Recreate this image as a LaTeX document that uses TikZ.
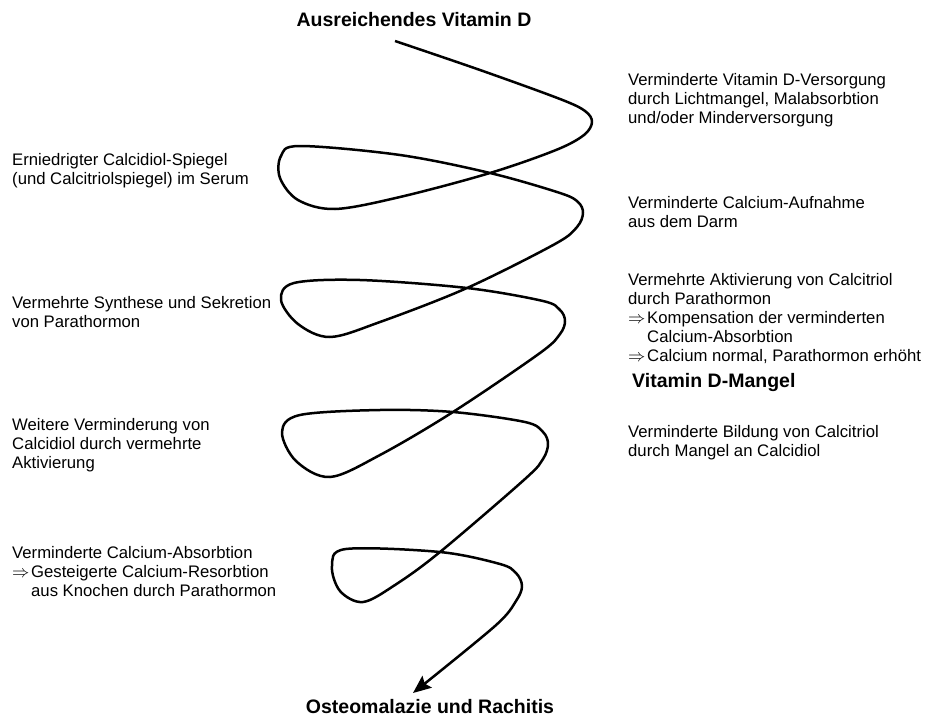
\documentclass[tikz,border=0pt]{standalone}
\usepackage{fontspec}
\setmainfont{Liberation Sans}
\usepackage{tikz}
\usetikzlibrary{positioning,arrows.meta}
\newcommand{\txtsize}{\fontsize{16.7}{19}\selectfont}
\newcommand{\ttlsize}{\fontsize{19.5}{22}\selectfont\bfseries}
\newcommand{\impl}{\makebox[19pt][l]{$\Rightarrow$}}
\tikzset{
  lbl/.style={font=\txtsize,align=left,anchor=north west,inner sep=0pt},
  ttl/.style={font=\ttlsize,anchor=base,inner sep=0pt},
  spiral/.style={line width=2.5pt,line join=round,-{Stealth[length=18pt,width=15pt,inset=3pt]}}
}
\begin{document}
\begin{tikzpicture}[x=1pt,y=-1pt]
  \useasboundingbox (0,0) rectangle (930,720);
  % end labels
  \node[ttl] (adequate) at (414,27) {Ausreichendes Vitamin D};
  \node[ttl] (osteo) at (430,713) {Osteomalazie und Rachitis};
  \node[ttl,anchor=base west] (mangel) at (632,387) {Vitamin D-Mangel};
  % right column
  \node[lbl] (supply) at (628,73) {Verminderte Vitamin D-Versorgung\\durch Lichtmangel, Malabsorbtion\\und/oder Minderversorgung};
  \node[lbl] (uptake) at (628,196) {Verminderte Calcium-Aufnahme\\aus dem Darm};
  \node[lbl] (activ) at (628,273) {Vermehrte Aktivierung von Calcitriol\\durch Parathormon\\\impl Kompensation der verminderten\\\hspace*{19pt}Calcium-Absorbtion\\\impl Calcium normal, Parathormon erh\"oht};
  \node[lbl] (build) at (628,425) {Verminderte Bildung von Calcitriol\\durch Mangel an Calcidiol};
  % left column
  \node[lbl] (serum) at (12,153) {Erniedrigter Calcidiol-Spiegel\\(und Calcitriolspiegel) im Serum};
  \node[lbl] (pth) at (12,296) {Vermehrte Synthese und Sekretion\\von Parathormon};
  \node[lbl] (further) at (12,418) {Weitere Verminderung von\\Calcidiol durch vermehrte\\Aktivierung};
  \node[lbl] (resorb) at (12,546) {Verminderte Calcium-Absorbtion\\\impl Gesteigerte Calcium-Resorbtion\\\hspace*{19pt}aus Knochen durch Parathormon};
  % the spiral
  \coordinate (s0) at (395,41);
  \coordinate (s1) at (413,693);
  \draw[spiral] plot[smooth,tension=0.55] coordinates {
    (s0) (480,70) (560,99) (585,111) (592,122) (584,135) (556,150) (490,173)
    (400,197) (335,209) (298,200) (280,178) (281,156) (300,146) (400,155)
    (490,173) (560,193) (578,202) (583,213) (577,227) (555,244) (467,288)
    (380,322) (330,337) (298,324) (281,300) (294,283) (360,280) (467,288)
    (543,301) (560,310) (565,321) (560,334) (540,353) (453,412)
    (380,455) (330,477) (296,461) (282,432) (300,415) (380,410) (453,412)
    (525,422) (543,432) (548,444) (543,459) (525,479) (440,552)
    (395,585) (363,602) (340,591) (332,566) (346,549) (440,552)
    (500,564) (516,573) (522,586) (516,601) (495,626) (s1)};
\end{tikzpicture}
\end{document}
